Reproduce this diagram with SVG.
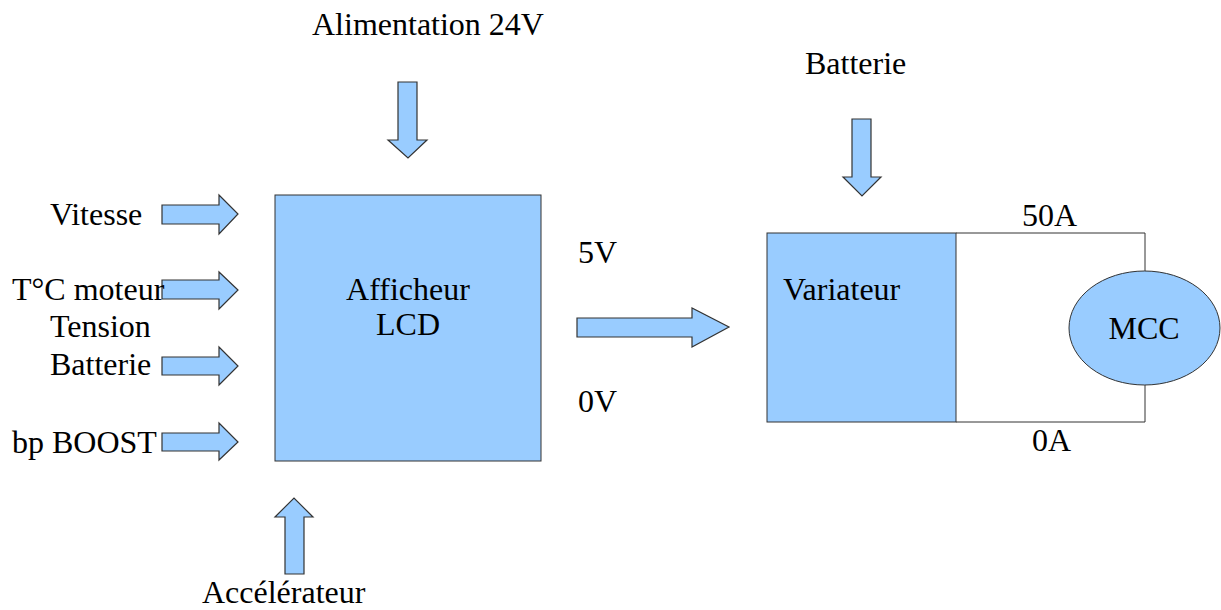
<svg xmlns="http://www.w3.org/2000/svg" width="1221" height="610" viewBox="0 0 1221 610">
<style>
text{font-family:"Liberation Serif","Times New Roman",serif;font-size:32px;fill:#000}
.box{fill:#99ccff;stroke:#333;stroke-width:1}
.arr{fill:#99ccff;stroke:#333;stroke-width:1.2;stroke-linejoin:miter}
.line{fill:none;stroke:#333;stroke-width:1}
.mid{text-anchor:middle}
</style>
<rect width="1221" height="610" fill="#fff"/>
<g id="connectors">
<polygon class="arr" points="162,205 219,205 219,195 238,214 219,234 219,224 162,224"/>
<polygon class="arr" points="162,280 219,280 219,272 238,290 219,309 219,299 162,299"/>
<polygon class="arr" points="162,357 219,357 219,347 238,366 219,385 219,375 162,375"/>
<polygon class="arr" points="162,433 219,433 219,423 238,442 219,460 219,451 162,451"/>
<polygon class="arr" points="398,82 417,82 417,140 427,140 408,158 388,140 398,140"/>
<polygon class="arr" points="285,574 304,574 304,517 313,517 294,498 275,517 285,517"/>
<polygon class="arr" points="577,318 692,318 692,308 729,327 692,347 692,337 577,337"/>
<polygon class="arr" points="852,119 871,119 871,177 881,177 862,196 843,177 852,177"/>
<polyline class="line" points="956,233 1145,233 1145,271"/>
<polyline class="line" points="956,422 1145,422 1145,385"/>
</g>
<g id="afficheur">
<rect class="box" x="275" y="195" width="266" height="266"/>
<text class="mid" x="408" y="300">Afficheur</text>
<text class="mid" x="408" y="335">LCD</text>
</g>
<g id="variateur">
<rect class="box" x="767" y="233" width="189" height="189"/>
<text x="783" y="300">Variateur</text>
</g>
<g id="mcc">
<ellipse class="box" cx="1144.5" cy="328" rx="75.5" ry="57"/>
<text class="mid" x="1144" y="339">MCC</text>
</g>
<g id="labels">
<text x="312" y="35">Alimentation 24V</text>
<text x="805" y="74">Batterie</text>
<text x="50" y="225">Vitesse</text>
<text x="12" y="300">T°C moteur</text>
<text x="50" y="337">Tension</text>
<text x="50" y="375">Batterie</text>
<text x="12" y="453">bp BOOST</text>
<text x="578" y="263">5V</text>
<text x="578" y="412">0V</text>
<text x="1022" y="226">50A</text>
<text x="1032" y="451">0A</text>
<text x="202" y="603">Accélérateur</text>
</g>
</svg>
